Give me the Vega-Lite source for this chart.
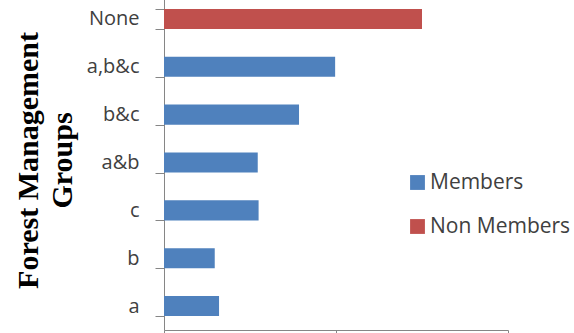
{
  "$schema": "https://vega.github.io/schema/vega-lite/v6.json",
  "width": 344,
  "height": 335,
  "autosize": "none",
  "padding": {"left": 164, "top": -5, "right": 66, "bottom": 3},
  "background": "white",
  "config": {
    "view": {"stroke": null},
    "font": "Open Sans"
  },
  "data": {
    "values": [
      {"group": "None", "share": 30.0, "status": "Non Members"},
      {"group": "a,b&c", "share": 19.9, "status": "Members"},
      {"group": "b&c", "share": 15.7, "status": "Members"},
      {"group": "a&b", "share": 10.9, "status": "Members"},
      {"group": "c", "share": 11.0, "status": "Members"},
      {"group": "b", "share": 5.9, "status": "Members"},
      {"group": "a", "share": 6.4, "status": "Members"}
    ]
  },
  "mark": {"type": "bar"},
  "encoding": {
    "y": {
      "field": "group",
      "type": "nominal",
      "sort": ["None", "a,b&c", "b&c", "a&b", "c", "b", "a"],
      "scale": {"paddingInner": 0.58, "paddingOuter": 0.29},
      "axis": {
        "title": ["Forest Management", "Groups"],
        "titleFont": "Liberation Serif",
        "titleFontSize": 30,
        "titleFontWeight": "bold",
        "titleColor": "#000000",
        "titleAngle": -90,
        "titleAlign": "center",
        "titleBaseline": "top",
        "titleLineHeight": 34,
        "titleX": -151,
        "titleY": 165,
        "tickBand": "extent",
        "tickSize": 9,
        "tickColor": "#868686",
        "domainColor": "#868686",
        "labelFont": "Open Sans",
        "labelFontSize": 20,
        "labelColor": "#404040",
        "labelPadding": 16,
        "grid": false
      }
    },
    "x": {
      "field": "share",
      "type": "quantitative",
      "scale": {"domain": [0, 40]},
      "axis": {
        "title": null,
        "values": [0, 20, 40],
        "labels": false,
        "grid": false,
        "tickSize": 4,
        "tickColor": "#868686",
        "domainColor": "#868686"
      }
    },
    "color": {
      "field": "status",
      "type": "nominal",
      "scale": {"domain": ["Members", "Non Members"], "range": ["#4F81BD", "#C0504D"]},
      "legend": {
        "title": null,
        "orient": "none",
        "legendX": 243,
        "legendY": 177,
        "symbolType": "square",
        "symbolSize": 220,
        "symbolStrokeWidth": 0,
        "labelFont": "Open Sans",
        "labelFontSize": 21,
        "labelColor": "#404040",
        "labelOffset": 2,
        "rowPadding": 22,
        "padding": 0
      }
    }
  }
}
